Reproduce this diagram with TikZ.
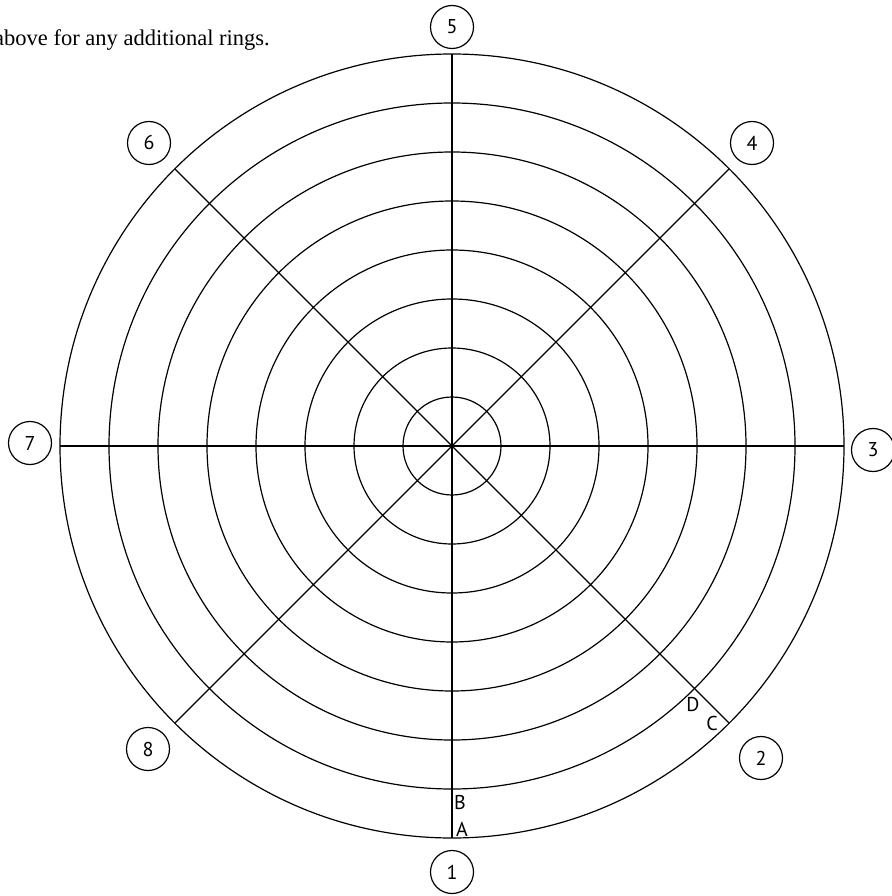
\documentclass[tikz,border=0pt]{standalone}
\usepackage{fontspec}
\setmainfont{Liberation Serif}
\newfontfamily\labelfont{PT Sans}
\begin{document}
\begin{tikzpicture}[x=1pt,y=-1pt,
  ring/.style={line width=1.2pt},
  spoke/.style={line width=1.2pt},
  numc/.style={circle, draw, line width=1.2pt, minimum size=43pt, inner sep=0pt, font=\labelfont\fontsize{20}{22}\selectfont},
  lett/.style={inner sep=0pt, font=\labelfont\fontsize{20}{22}\selectfont},
  note/.style={inner sep=0pt, anchor=base west, font=\fontsize{22.5}{26}\selectfont}]
\useasboundingbox (0,0) rectangle (891,896);
\coordinate (O) at (452,446);
% rings
\foreach \k in {1,...,8} {
  \draw[ring] (O) circle[radius=49*\k pt];
}
% spokes
\foreach \a in {0,45,90,135} {
  \coordinate (p\a) at ([shift={(\a:392pt)}]O);
  \coordinate (q\a) at ([shift={(\a+180:392pt)}]O);
  \draw[spoke] (p\a) -- (q\a);
}
% numbered circles
\node[numc] (n1) at (452,872) {1};
\node[numc] (n2) at (761,758) {2};
\node[numc] (n3) at (873,450) {3};
\node[numc] (n4) at (752,143) {4};
\node[numc] (n5) at (452,27) {5};
\node[numc] (n6) at (149,143) {6};
\node[numc] (n7) at (30,443) {7};
\node[numc] (n8) at (148,749) {8};
% letters
\node[lett] (lB) at (460,802) {B};
\node[lett] (lA) at (462,829) {A};
\node[lett] (lD) at (693,705) {D};
\node[lett] (lC) at (712,723) {C};
% note
\node[note] (txt) at (-6,46) {above for any additional rings.};
\end{tikzpicture}
\end{document}
